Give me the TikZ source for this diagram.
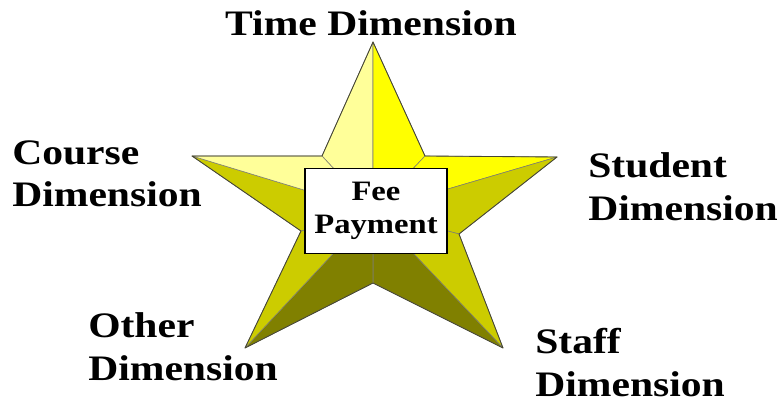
\documentclass[tikz,border=0pt]{standalone}
\usepackage{fontspec}
\usepackage{tikz}
\usetikzlibrary{positioning}
\newfontfamily\lblfont{Liberation Serif}[FakeStretch=1.16]
\definecolor{starlight}{RGB}{255,255,153}
\definecolor{staryellow}{RGB}{255,255,0}
\definecolor{starmid}{RGB}{204,204,0}
\definecolor{stardark}{RGB}{128,128,0}
\definecolor{staredge}{RGB}{70,70,50}

\begin{document}
\begin{tikzpicture}[
  x=0.025cm, y=0.025cm,
  facet/.style={draw=staredge!70, line width=0.4pt, line join=round},
  dimlabel/.style={inner sep=0pt, align=left, anchor=north west,
              font=\lblfont\bfseries\fontsize{25.5}{30.5}\selectfont},
  factbox/.style={rectangle, draw=black, fill=white, line width=1.1pt,
              minimum width=3.55cm, minimum height=2.125cm, align=center,
              font=\lblfont\bfseries\fontsize{20}{23.4}\selectfont},
]
  \useasboundingbox (0,0) rectangle (780,406);

  % star corners
  \coordinate (top) at (373,364);
  \coordinate (uri) at (425,250);
  \coordinate (rt)  at (557,249);
  \coordinate (lri) at (459,172);
  \coordinate (brt) at (503,58);
  \coordinate (bi)  at (373,123);
  \coordinate (blt) at (245,58);
  \coordinate (lli) at (301,175);
  \coordinate (lt)  at (192,250);
  \coordinate (uli) at (322,250);
  \coordinate (c)   at (373,195);

  % bevelled faces
  \filldraw[facet, fill=starlight]  (top) -- (c) -- (uli) -- cycle;
  \filldraw[facet, fill=staryellow] (top) -- (uri) -- (c) -- cycle;
  \filldraw[facet, fill=staryellow] (uri) -- (rt) -- (c) -- cycle;
  \filldraw[facet, fill=starmid]    (rt) -- (lri) -- (c) -- cycle;
  \filldraw[facet, fill=starmid]    (lri) -- (brt) -- (c) -- cycle;
  \filldraw[facet, fill=stardark]   (brt) -- (bi) -- (c) -- cycle;
  \filldraw[facet, fill=stardark]   (bi) -- (blt) -- (c) -- cycle;
  \filldraw[facet, fill=starmid]    (blt) -- (lli) -- (c) -- cycle;
  \filldraw[facet, fill=starmid]    (lli) -- (lt) -- (c) -- cycle;
  \filldraw[facet, fill=starlight]  (lt) -- (uli) -- (c) -- cycle;
  \draw[staredge, line width=0.6pt, line join=round]
    (top) -- (uri) -- (rt) -- (lri) -- (brt) -- (bi) -- (blt) -- (lli) -- (lt) -- (uli) -- cycle;

  \node[factbox] (fact) at (376,195) {Fee\\Payment};

  \node[dimlabel, anchor=north] (time) at (371,396) {Time Dimension};
  \node[dimlabel] (course) at (12,266) {Course\\Dimension};
  \node[dimlabel] (student) at (588,254) {Student\\Dimension};
  \node[dimlabel] (other) at (88,94) {Other\\Dimension};
  \node[dimlabel] (staff) at (535,78) {Staff\\Dimension};
\end{tikzpicture}
\end{document}
